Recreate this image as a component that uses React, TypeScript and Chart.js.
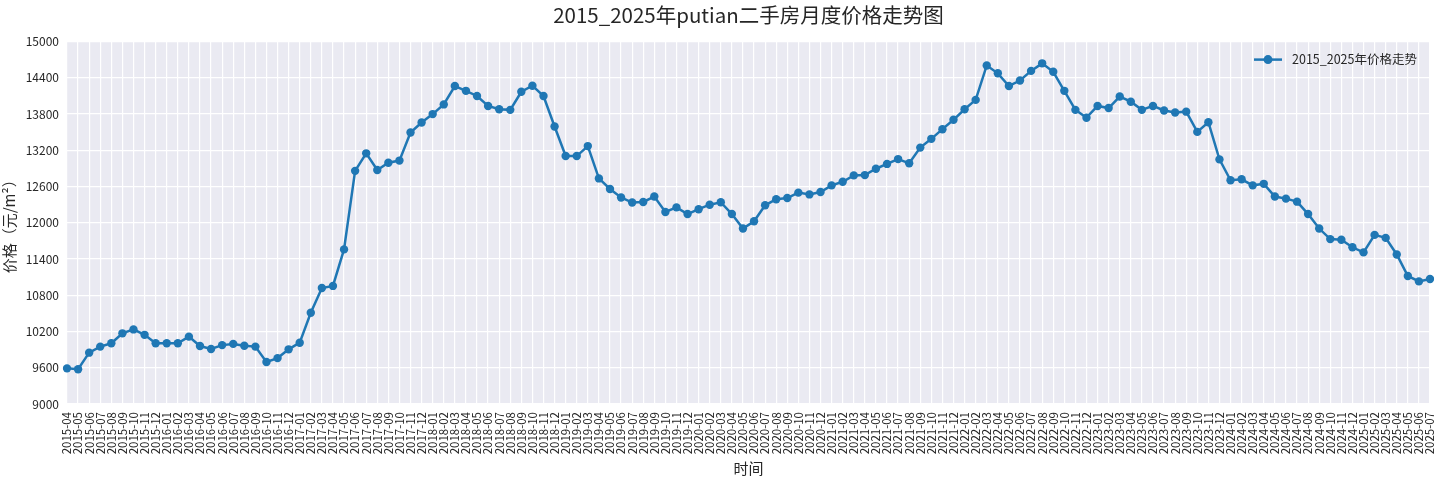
import { useEffect, useRef } from "react";
import { Chart, ChartConfiguration, registerables } from "chart.js";

Chart.register(...registerables);

// monthly labels 2015-04 .. 2025-07
const months: string[] = [
  "2015-04", "2015-05", "2015-06", "2015-07", "2015-08", "2015-09", "2015-10", "2015-11", "2015-12",
  "2016-01", "2016-02", "2016-03", "2016-04", "2016-05", "2016-06", "2016-07", "2016-08", "2016-09", "2016-10", "2016-11", "2016-12",
  "2017-01", "2017-02", "2017-03", "2017-04", "2017-05", "2017-06", "2017-07", "2017-08", "2017-09", "2017-10", "2017-11", "2017-12",
  "2018-01", "2018-02", "2018-03", "2018-04", "2018-05", "2018-06", "2018-07", "2018-08", "2018-09", "2018-10", "2018-11", "2018-12",
  "2019-01", "2019-02", "2019-03", "2019-04", "2019-05", "2019-06", "2019-07", "2019-08", "2019-09", "2019-10", "2019-11", "2019-12",
  "2020-01", "2020-02", "2020-03", "2020-04", "2020-05", "2020-06", "2020-07", "2020-08", "2020-09", "2020-10", "2020-11", "2020-12",
  "2021-01", "2021-02", "2021-03", "2021-04", "2021-05", "2021-06", "2021-07", "2021-08", "2021-09", "2021-10", "2021-11", "2021-12",
  "2022-01", "2022-02", "2022-03", "2022-04", "2022-05", "2022-06", "2022-07", "2022-08", "2022-09", "2022-10", "2022-11", "2022-12",
  "2023-01", "2023-02", "2023-03", "2023-04", "2023-05", "2023-06", "2023-07", "2023-08", "2023-09", "2023-10", "2023-11", "2023-12",
  "2024-01", "2024-02", "2024-03", "2024-04", "2024-05", "2024-06", "2024-07", "2024-08", "2024-09", "2024-10", "2024-11", "2024-12",
  "2025-01", "2025-02", "2025-03", "2025-04", "2025-05", "2025-06", "2025-07",
];

// 元/m²
const prices: number[] = [
  9590, 9575, 9850, 9950, 10005, 10170, 10235, 10145, 10005,
  10005, 10005, 10115, 9960, 9910, 9975, 9995, 9965, 9950, 9695, 9760, 9905,
  10015, 10510, 10920, 10955, 11560, 12860, 13150, 12875, 12995, 13030, 13495, 13660,
  13800, 13960, 14265, 14185, 14100, 13935, 13880, 13870, 14170, 14270, 14100, 13595,
  13105, 13105, 13270, 12735, 12560, 12420, 12335, 12345, 12435, 12180, 12255, 12145,
  12225, 12300, 12340, 12145, 11905, 12025, 12290, 12390, 12410, 12500, 12470, 12510,
  12620, 12680, 12785, 12790, 12895, 12975, 13055, 12985, 13245, 13390, 13550, 13705,
  13880, 14035, 14605, 14475, 14265, 14355, 14515, 14640, 14500, 14185, 13870, 13740,
  13935, 13900, 14090, 14005, 13870, 13935, 13860, 13825, 13840, 13505, 13665, 13050,
  12705, 12720, 12620, 12645, 12435, 12400, 12350, 12145, 11905, 11730, 11720, 11595,
  11510, 11800, 11750, 11475, 11120, 11030, 11070,
];

const seriesName = "2015_2025年价格走势";
const chartTitle = "2015_2025年putian二手房月度价格走势图";
const xTitle = "时间";
const yTitle = "价格（元/m²）";

const FONT = "'Noto Sans CJK SC', 'DejaVu Sans', sans-serif";
const LINE = "#1f77b4";
const TEXT = "#262626";

const plotBackground = {
  id: "plotBackground",
  beforeDraw(chart: Chart) {
    const { ctx, chartArea } = chart;
    ctx.save();
    ctx.fillStyle = "#EAEAF2";
    ctx.fillRect(chartArea.left, chartArea.top, chartArea.right - chartArea.left, chartArea.bottom - chartArea.top);
    ctx.restore();
  },
};

// matplotlib-like legend, frameless, inside upper right
const insideLegend = {
  id: "insideLegend",
  afterDraw(chart: Chart) {
    const { ctx, chartArea } = chart;
    const y = chartArea.top + 18;
    const x0 = chartArea.right - 176;
    ctx.save();
    ctx.strokeStyle = LINE;
    ctx.lineWidth = 2.5;
    ctx.beginPath();
    ctx.moveTo(x0, y);
    ctx.lineTo(x0 + 28, y);
    ctx.stroke();
    ctx.fillStyle = LINE;
    ctx.beginPath();
    ctx.arc(x0 + 14, y, 4.5, 0, Math.PI * 2);
    ctx.fill();
    ctx.fillStyle = TEXT;
    ctx.font = `12.5px ${FONT}`;
    ctx.textBaseline = "middle";
    ctx.fillText(seriesName, x0 + 38, y);
    ctx.restore();
  },
};

export default function App() {
  const canvasRef = useRef<HTMLCanvasElement | null>(null);

  useEffect(() => {
    document.body.style.margin = "0";
    if (!canvasRef.current) return;

    const config: ChartConfiguration = {
      type: "line",
      data: {
        labels: months,
        datasets: [
          {
            label: seriesName,
            data: prices,
            borderColor: LINE,
            backgroundColor: LINE,
            borderWidth: 2.5,
            pointRadius: 4.2,
            pointHoverRadius: 4.2,
            pointBorderWidth: 0,
            tension: 0,
            fill: false,
          },
        ],
      },
      plugins: [plotBackground, insideLegend],
      options: {
        responsive: false,
        animation: false,
        layout: { padding: { left: 0, right: 10, top: 0, bottom: 0 } },
        plugins: {
          legend: { display: false },
          tooltip: { enabled: false },
          title: {
            display: true,
            fullSize: false,
            text: chartTitle,
            color: TEXT,
            font: { family: FONT, size: 20.5, weight: "normal" },
            padding: { top: 3, bottom: 14 },
          },
        },
        scales: {
          x: {
            type: "category",
            offset: false,
            border: { display: false },
            grid: { color: "#ffffff", lineWidth: 1.2, drawTicks: false },
            ticks: {
              autoSkip: false,
              maxRotation: 90,
              minRotation: 90,
              padding: 8,
              color: TEXT,
              font: { family: FONT, size: 11.5 },
            },
            title: {
              display: true,
              text: xTitle,
              color: TEXT,
              font: { family: FONT, size: 15 },
              padding: { top: 0, bottom: 3 },
            },
            afterFit(scale) {
              scale.height = 76;
              scale.paddingLeft = 0;
              scale.paddingRight = 0;
            },
          },
          y: {
            min: 9000,
            max: 15000,
            border: { display: false },
            grid: { color: "#ffffff", lineWidth: 1.2, drawTicks: false },
            ticks: {
              stepSize: 600,
              padding: 8,
              color: TEXT,
              font: { family: FONT, size: 12 },
              callback: (value) => String(value),
            },
            title: {
              display: true,
              text: yTitle,
              color: TEXT,
              font: { family: FONT, size: 15 },
              padding: { top: 0, bottom: 0 },
            },
            afterFit(scale) {
              scale.width = 67;
            },
          },
        },
      },
    };

    const chart = new Chart(canvasRef.current, config);
    return () => {
      chart.destroy();
    };
  }, []);

  return (
    <div style={{ width: 1440, height: 480, background: "#ffffff" }}>
      <canvas ref={canvasRef} width={1440} height={480} />
    </div>
  );
}
